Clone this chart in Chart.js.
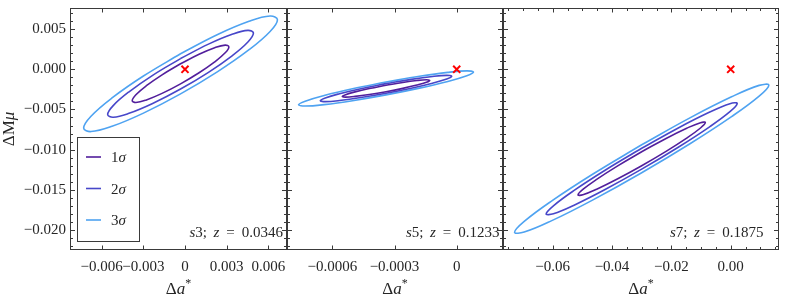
<!DOCTYPE html>
<html><head><meta charset="utf-8">
<script src="https://cdn.jsdelivr.net/npm/chart.js@4.4.1/dist/chart.umd.min.js"></script>
<style>
html,body{margin:0;padding:0;background:#fff;}
#wrap{position:relative;width:789px;height:296px;overflow:hidden;}
#wrap canvas{position:absolute;left:0;top:0;}
</style></head><body>
<div id="wrap">
<canvas id="c1" width="789" height="296"></canvas>
<canvas id="c2" width="789" height="296"></canvas>
<canvas id="c3" width="789" height="296"></canvas>
</div>
<script>
// ---------------- data ----------------
const contourLabels = ['1σ', '2σ', '3σ'];
const surveyNames = ['s3', 's5', 's7'];
const redshifts = ['0.0346', '0.1233', '0.1875'];
const fiducialX = 0, fiducialY = 0;

const yTickValues = [-0.020, -0.015, -0.010, -0.005, 0.000, 0.005];
const yTickLabels = ['−0.020', '−0.015', '−0.010', '−0.005', '0.000', '0.005'];
const yMinorTicks = [-0.022,-0.021,-0.019,-0.018,-0.017,-0.016,-0.014,-0.013,-0.012,-0.011,-0.009,-0.008,-0.007,-0.006,-0.004,-0.003,-0.002,-0.001,0.001,0.002,0.003,0.004,0.006,0.007];

const xTicksS3 = [-0.006, -0.003, 0, 0.003, 0.006];
const xLabelsS3 = ['−0.006', '−0.003', '0', '0.003', '0.006'];
const xTicksS5 = [-0.0006, -0.0003, 0];
const xLabelsS5 = ['−0.0006', '−0.0003', '0'];
const xTicksS7 = [-0.06, -0.04, -0.02, 0];
const xLabelsS7 = ['−0.06', '−0.04', '−0.02', '0.00'];
const xMinorS7 = [-0.075,-0.07,-0.065,-0.055,-0.05,-0.045,-0.035,-0.03,-0.025,-0.015,-0.01,-0.005,0.005,0.01,0.015];

// contour outlines (Δa*, ΔMμ)
const s3_1s_x = [-0.32e-3,-1.653e-3,-2.780e-3,-3.536e-3,-3.80e-3,-3.536e-3,-2.780e-3,-1.653e-3,-0.32e-3,1.013e-3,2.140e-3,2.896e-3,3.16e-3,2.896e-3,2.140e-3,1.013e-3,-0.32e-3];
const s3_1s_y = [0.69e-3,-0.688e-3,-2.044e-3,-3.176e-3,-3.91e-3,-4.134e-3,-3.812e-3,-2.998e-3,-1.81e-3,-0.432e-3,0.924e-3,2.056e-3,2.79e-3,3.014e-3,2.692e-3,1.878e-3,0.69e-3];
const s3_2s_x = [-0.32e-3,-2.331e-3,-4.032e-3,-5.171e-3,-5.57e-3,-5.171e-3,-4.032e-3,-2.331e-3,-0.32e-3,1.691e-3,3.392e-3,4.531e-3,4.93e-3,4.531e-3,3.392e-3,1.691e-3,-0.32e-3];
const s3_2s_y = [1.34e-3,-0.746e-3,-2.801e-3,-4.517e-3,-5.63e-3,-5.973e-3,-5.487e-3,-4.258e-3,-2.46e-3,-0.374e-3,1.681e-3,3.397e-3,4.51e-3,4.853e-3,4.367e-3,3.138e-3,1.34e-3];
const s3_3s_x = [-0.32e-3,-2.993e-3,-5.255e-3,-6.770e-3,-7.30e-3,-6.770e-3,-5.255e-3,-2.993e-3,-0.32e-3,2.353e-3,4.615e-3,6.130e-3,6.66e-3,6.130e-3,4.615e-3,2.353e-3,-0.32e-3];
const s3_3s_y = [1.94e-3,-0.835e-3,-3.564e-3,-5.839e-3,-7.31e-3,-7.755e-3,-7.100e-3,-5.455e-3,-3.06e-3,-0.285e-3,2.444e-3,4.719e-3,6.19e-3,6.635e-3,5.980e-3,4.335e-3,1.94e-3];

const s5_1s_x = [-3.41e-4,-4.218e-4,-4.902e-4,-5.360e-4,-5.52e-4,-5.360e-4,-4.902e-4,-4.218e-4,-3.41e-4,-2.602e-4,-1.918e-4,-1.460e-4,-1.30e-4,-1.460e-4,-1.918e-4,-2.602e-4,-3.41e-4];
const s5_1s_y = [-1.985e-3,-2.398e-3,-2.809e-3,-3.156e-3,-3.385e-3,-3.462e-3,-3.375e-3,-3.138e-3,-2.785e-3,-2.372e-3,-1.961e-3,-1.614e-3,-1.385e-3,-1.308e-3,-1.395e-3,-1.632e-3,-1.985e-3];
const s5_2s_x = [-3.41e-4,-4.624e-4,-5.651e-4,-6.339e-4,-6.58e-4,-6.339e-4,-5.651e-4,-4.624e-4,-3.41e-4,-2.196e-4,-1.169e-4,-0.481e-4,-0.24e-4,-0.481e-4,-1.169e-4,-2.196e-4,-3.41e-4];
const s5_2s_y = [-1.785e-3,-2.413e-3,-3.036e-3,-3.559e-3,-3.905e-3,-4.019e-3,-3.884e-3,-3.521e-3,-2.985e-3,-2.357e-3,-1.734e-3,-1.211e-3,-0.865e-3,-0.751e-3,-0.886e-3,-1.249e-3,-1.785e-3];
const s5_3s_x = [-3.41e-4,-5.026e-4,-6.394e-4,-7.309e-4,-7.63e-4,-7.309e-4,-6.394e-4,-5.026e-4,-3.41e-4,-1.794e-4,-0.426e-4,0.489e-4,0.81e-4,0.489e-4,-0.426e-4,-1.794e-4,-3.41e-4];
const s5_3s_y = [-1.585e-3,-2.427e-3,-3.261e-3,-3.964e-3,-4.425e-3,-4.576e-3,-4.393e-3,-3.905e-3,-3.185e-3,-2.343e-3,-1.509e-3,-0.806e-3,-0.345e-3,-0.194e-3,-0.377e-3,-0.865e-3,-1.585e-3];

const s7_1s_x = [-3.0e-2,-3.822e-2,-4.517e-2,-4.982e-2,-5.145e-2,-4.982e-2,-4.517e-2,-3.822e-2,-3.0e-2,-2.178e-2,-1.483e-2,-1.018e-2,-0.855e-2,-1.018e-2,-1.483e-2,-2.178e-2,-3.0e-2];
const s7_1s_y = [-10.27e-3,-12.061e-3,-13.710e-3,-14.970e-3,-15.645e-3,-15.636e-3,-14.940e-3,-13.669e-3,-12.01e-3,-10.219e-3,-8.570e-3,-7.310e-3,-6.635e-3,-6.644e-3,-7.340e-3,-8.611e-3,-10.27e-3];
const s7_2s_x = [-3.0e-2,-4.233e-2,-5.277e-2,-5.975e-2,-6.22e-2,-5.975e-2,-5.277e-2,-4.233e-2,-3.0e-2,-1.767e-2,-0.723e-2,-0.025e-2,0.22e-2,-0.025e-2,-0.723e-2,-1.767e-2,-3.0e-2];
const s7_2s_y = [-9.84e-3,-12.574e-3,-15.085e-3,-16.999e-3,-18.02e-3,-17.995e-3,-16.923e-3,-14.976e-3,-12.44e-3,-9.706e-3,-7.195e-3,-5.281e-3,-4.26e-3,-4.285e-3,-5.357e-3,-7.304e-3,-9.84e-3];
const s7_3s_x = [-3.0e-2,-4.641e-2,-6.029e-2,-6.959e-2,-7.285e-2,-6.959e-2,-6.029e-2,-4.641e-2,-3.0e-2,-1.359e-2,0.029e-2,0.959e-2,1.285e-2,0.959e-2,0.029e-2,-1.359e-2,-3.0e-2];
const s7_3s_y = [-9.40e-3,-13.044e-3,-16.393e-3,-18.947e-3,-20.31e-3,-20.279e-3,-18.853e-3,-16.260e-3,-12.88e-3,-9.236e-3,-5.887e-3,-3.333e-3,-1.97e-3,-2.001e-3,-3.427e-3,-6.020e-3,-9.40e-3];

// ---------------- style ----------------
const FONT = "'Liberation Serif', 'Times New Roman', serif";
const INK = '#262626';
const FRAME = '#3a3a3a';
const COLORS = ['#521f9c', '#4747c9', '#4fa3f1'];

function pts(xs, ys) { return xs.map((x, i) => ({ x: x, y: ys[i] })); }

function drawMixed(ctx, parts, x, y, align) {
  let total = 0;
  const ws = parts.map(p => {
    ctx.font = (p.it ? 'italic ' : '') + (p.size || 15) + 'px ' + FONT;
    const w = ctx.measureText(p.t).width;
    total += w + (p.gap || 0);
    return w;
  });
  let cx = align === 'right' ? x - total : (align === 'center' ? x - total / 2 : x);
  parts.forEach((p, i) => {
    cx += (p.gap || 0);
    ctx.font = (p.it ? 'italic ' : '') + (p.size || 15) + 'px ' + FONT;
    ctx.fillText(p.t, cx, y + (p.dy || 0));
    cx += ws[i];
  });
}

const decoPlugin = {
  id: 'deco',
  afterDatasetsDraw(chart) {
    const o = chart.options.plugins.deco;
    const { ctx, chartArea: a, scales } = chart;
    const ys = scales.y, xs = scales.x;
    ctx.save();
    ctx.strokeStyle = FRAME;
    ctx.lineWidth = 1;
    ctx.beginPath();
    const L = Math.round(a.left) + 0.5, R = Math.round(a.right) - 0.5;
    const T = Math.round(a.top) + 0.5, B = Math.round(a.bottom) - 0.5;
    function hTick(v, len) {
      const p = Math.round(ys.getPixelForValue(v)) + 0.5;
      ctx.moveTo(L, p); ctx.lineTo(L + len, p);
      ctx.moveTo(R, p); ctx.lineTo(R - len, p);
    }
    function vTick(v, len) {
      const p = Math.round(xs.getPixelForValue(v)) + 0.5;
      ctx.moveTo(p, B); ctx.lineTo(p, B - len);
      ctx.moveTo(p, T); ctx.lineTo(p, T + len);
    }
    yTickValues.forEach(v => hTick(v, 4.5));
    yMinorTicks.forEach(v => hTick(v, 2.5));
    o.xMajor.forEach(v => vTick(v, 4));
    (o.xMinor || []).forEach(v => vTick(v, 2.5));
    ctx.stroke();
    ctx.strokeRect(L, T, R - L, B - T);

    ctx.fillStyle = INK;
    ctx.textBaseline = 'alphabetic';
    // annotation
    drawMixed(ctx, [
      { t: o.name[0], it: true },
      { t: o.name.slice(1) + ';' },
      { t: 'z', it: true, gap: 6.5 },
      { t: '=', gap: 7 },
      { t: o.z, gap: 7 }
    ], a.right - o.annRight, a.bottom - 13.5, 'right');
    // x title
    drawMixed(ctx, [
      { t: 'Δ', size: 17 },
      { t: 'a', it: true, size: 17 },
      { t: '*', size: 12, dy: -7 }
    ], (a.left + a.right) / 2, 294, 'center');

    if (o.legend) {
      // y title
      ctx.save();
      ctx.translate(13.5, (a.top + a.bottom) / 2);
      ctx.rotate(-Math.PI / 2);
      drawMixed(ctx, [{ t: 'ΔM', size: 17 }, { t: 'μ', it: true, size: 17 }], 0, 0, 'center');
      ctx.restore();
      // legend box
      const bx = Math.round(a.left) + 7.5, by = Math.round(a.top) + 129.5;
      ctx.fillStyle = '#fff';
      ctx.fillRect(bx, by, 62, 104);
      ctx.strokeStyle = FRAME;
      ctx.strokeRect(bx, by, 62, 104);
      const rows = [149, 180.5, 212];
      contourLabels.forEach((lab, i) => {
        const ry = a.top + rows[i];
        ctx.strokeStyle = COLORS[i];
        ctx.lineWidth = 1.6;
        ctx.beginPath();
        ctx.moveTo(a.left + 16, ry); ctx.lineTo(a.left + 31, ry);
        ctx.stroke();
        ctx.fillStyle = INK;
        drawMixed(ctx, [{ t: lab[0] }, { t: lab.slice(1), it: true }], a.left + 41, ry + 5, 'left');
      });
    }
    ctx.restore();
  }
};

function makePanel(id, cfg) {
  const datasets = [
    { label: 'fiducial', data: [{ x: fiducialX, y: fiducialY }], showLine: false,
      pointStyle: 'crossRot', pointRadius: 5, borderColor: '#ff0000', backgroundColor: '#ff0000', borderWidth: 2 }
  ];
  cfg.contours.forEach((c, i) => {
    datasets.push({ label: contourLabels[i], data: pts(c[0], c[1]), showLine: true,
      borderColor: COLORS[i], backgroundColor: COLORS[i], borderWidth: 1.6, pointRadius: 0,
      tension: 0.4, fill: false });
  });
  return new Chart(document.getElementById(id), {
    type: 'scatter',
    data: { datasets },
    options: {
      responsive: false, animation: false, devicePixelRatio: 1,
      layout: { padding: cfg.padding },
      plugins: { legend: { display: false }, tooltip: { enabled: false },
        deco: { name: cfg.name, z: cfg.z, xMajor: cfg.xTicks, xMinor: cfg.xMinor, legend: cfg.legend, annRight: cfg.annRight } },
      scales: {
        x: {
          type: 'linear', min: cfg.xMin, max: cfg.xMax,
          afterBuildTicks: s => { s.ticks = cfg.xTicks.map(v => ({ value: v })); },
          afterFit: s => { s.height = 46; s.paddingLeft = 0; s.paddingRight = 0; },
          grid: { display: false, drawTicks: false }, border: { display: false },
          ticks: { autoSkip: false, maxRotation: 0, minRotation: 0, padding: 8, color: INK,
            font: { family: FONT, size: 15 },
            callback: (v, i) => cfg.xLabels[i] }
        },
        y: {
          type: 'linear', min: -0.02251, max: 0.00764, display: cfg.legend,
          afterBuildTicks: s => { s.ticks = yTickValues.map(v => ({ value: v })); },
          afterFit: s => { s.width = cfg.legend ? 70 : 0; s.paddingTop = 0; s.paddingBottom = 0; },
          grid: { display: false, drawTicks: false }, border: { display: false },
          ticks: { autoSkip: false, padding: 4, color: INK, font: { family: FONT, size: 15 },
            callback: (v, i) => yTickLabels[i] }
        }
      }
    },
    plugins: [decoPlugin]
  });
}

makePanel('c1', { name: surveyNames[0], z: redshifts[0], legend: true, annRight: 4,
  padding: { left: 0, right: 502, top: 8, bottom: 0 },
  xMin: -0.008283, xMax: 0.007347, xTicks: xTicksS3, xLabels: xLabelsS3, xMinor: [],
  contours: [[s3_1s_x, s3_1s_y], [s3_2s_x, s3_2s_y], [s3_3s_x, s3_3s_y]] });
makePanel('c2', { name: surveyNames[1], z: redshifts[1], legend: false, annRight: 3.5,
  padding: { left: 287, right: 286, top: 8, bottom: 0 },
  xMin: -0.0008186, xMax: 0.0002233, xTicks: xTicksS5, xLabels: xLabelsS5, xMinor: [],
  contours: [[s5_1s_x, s5_1s_y], [s5_2s_x, s5_2s_y], [s5_3s_x, s5_3s_y]] });
makePanel('c3', { name: surveyNames[2], z: redshifts[2], legend: false, annRight: 15.5,
  padding: { left: 503, right: 10, top: 8, bottom: 0 },
  xMin: -0.07674, xMax: 0.01628, xTicks: xTicksS7, xLabels: xLabelsS7, xMinor: xMinorS7,
  contours: [[s7_1s_x, s7_1s_y], [s7_2s_x, s7_2s_y], [s7_3s_x, s7_3s_y]] });
</script>
</body></html>
